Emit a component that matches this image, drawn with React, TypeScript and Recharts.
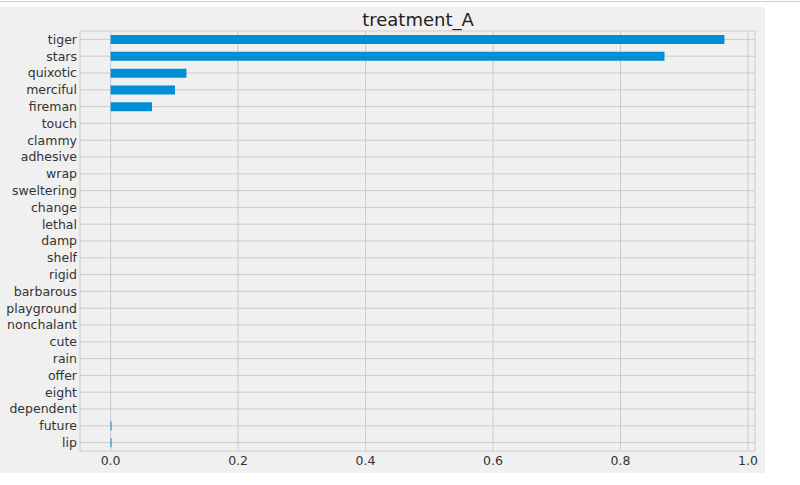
import { Bar, BarChart, CartesianGrid, XAxis, YAxis } from "recharts";

const words = [
  "tiger", "stars", "quixotic", "merciful", "fireman", "touch", "clammy", "adhesive",
  "wrap", "sweltering", "change", "lethal", "damp", "shelf", "rigid", "barbarous",
  "playground", "nonchalant", "cute", "rain", "offer", "eight", "dependent", "future", "lip",
];
const scores = [
  0.963, 0.869, 0.119, 0.101, 0.065, 0, 0, 0,
  0, 0, 0, 0, 0, 0, 0, 0,
  0, 0, 0, 0, 0, 0, 0, 0.0015, 0.0015,
];
const xTicks = [0, 0.2, 0.4, 0.6, 0.8, 1.0];

const data = words.map((w, i) => ({ word: w, value: scores[i] }));

const font = "'DejaVu Sans', sans-serif";

export default function App() {
  return (
    <div style={{ position: "absolute", left: 0, top: 0, width: 800, height: 485, background: "#fff", fontFamily: font }}>
      <div style={{ position: "absolute", left: 0, top: 1, width: 800, height: 1, background: "#cfcfcf" }} />
      <div style={{ position: "absolute", left: 0, top: 7, width: 765, height: 466, background: "#f0f0f0" }}>
        <div
          style={{
            position: "absolute",
            left: 80,
            width: 676,
            top: 2,
            textAlign: "center",
            fontSize: 18,
            lineHeight: "22px",
            color: "#222",
          }}
        >
          treatment_A
        </div>
        <BarChart
          width={765}
          height={466}
          data={data}
          layout="vertical"
          barCategoryGap="24%"
          margin={{ top: 24, right: 10, left: 0, bottom: 0 }}
        >
          <CartesianGrid stroke="#cbcbcb" strokeWidth={1} />
          <XAxis
            type="number"
            domain={[-0.048, 1.011]}
            ticks={xTicks}
            allowDataOverflow
            tickFormatter={(v: number) => v.toFixed(1)}
            tickLine={false}
            axisLine={false}
            tickSize={0}
            tickMargin={5}
            height={22}
            tick={{ fill: "#333", fontSize: 12.5, fontFamily: font }}
          />
          <YAxis
            type="category"
            dataKey="word"
            width={80}
            interval={0}
            tickLine={false}
            axisLine={false}
            tickSize={0}
            tickMargin={3}
            tick={{ fill: "#333", fontSize: 12.5, fontFamily: font }}
          />
          <Bar dataKey="value" fill="#008fd5" isAnimationActive={false} />
        </BarChart>
      </div>
    </div>
  );
}
